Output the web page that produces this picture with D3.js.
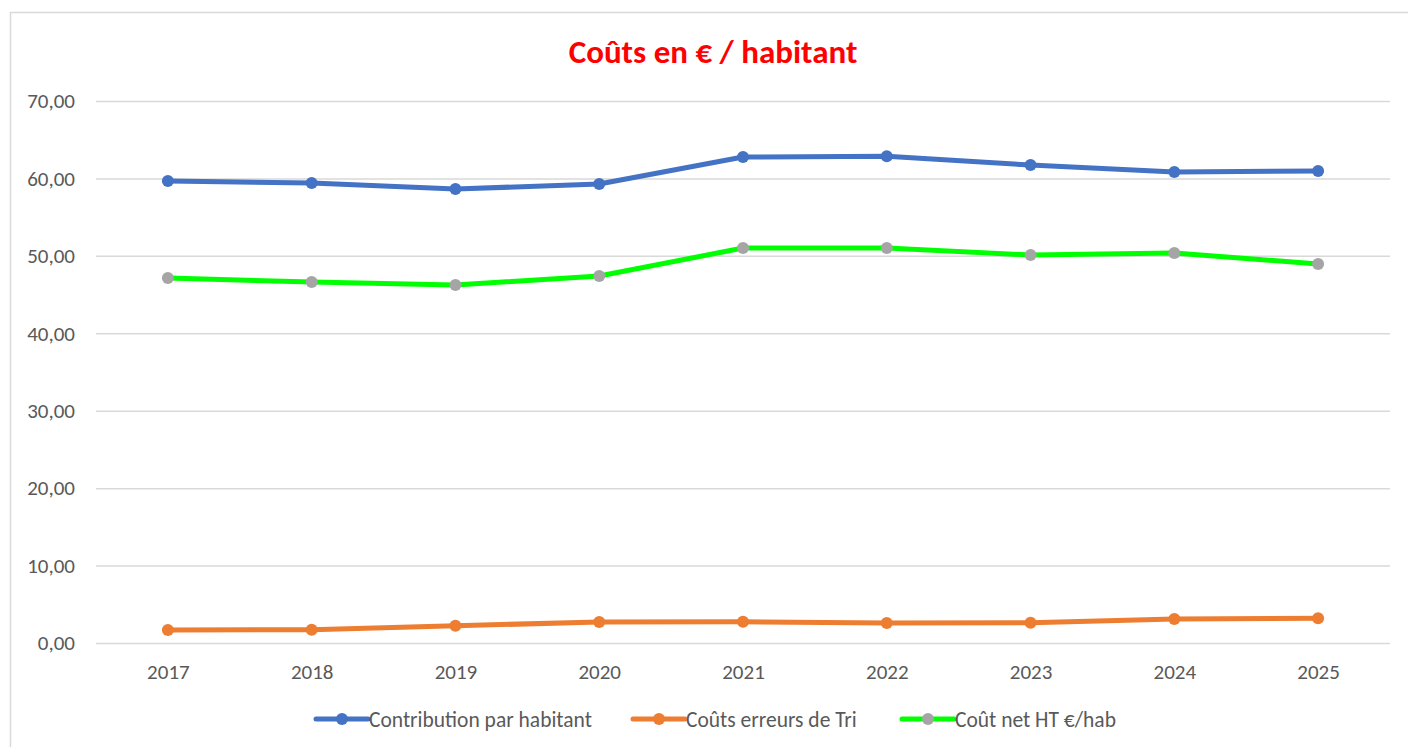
<!DOCTYPE html>
<html>
<head>
<meta charset='utf-8'>
<script src='https://d3js.org/d3.v7.min.js'></script>
<style>
    body { margin: 0; background: #fff; }
    svg text { font-family: Carlito, Lato, 'Open Sans', sans-serif; }
</style>
</head>
<body>
<svg width='1408' height='747'></svg>
<script>

    // data
    var years = ['2017', '2018', '2019', '2020', '2021', '2022', '2023', '2024', '2025'];
    var contribution = [59.67, 59.41, 58.63, 59.28, 62.77, 62.85, 61.73, 60.83, 60.96];
    var erreursTri = [1.68, 1.72, 2.23, 2.71, 2.75, 2.58, 2.62, 3.10, 3.19];
    var coutNet = [47.14, 46.62, 46.24, 47.40, 51.01, 51.01, 50.11, 50.37, 48.95];
    var yTicks = [0, 10, 20, 30, 40, 50, 60, 70];

    var series = [
        { name: 'Contribution par habitant', values: contribution, line: '#4472C4', dot: '#4472C4' },
        { name: 'Coûts erreurs de Tri', values: erreursTri, line: '#ED7D31', dot: '#ED7D31' },
        { name: 'Coût net HT €/hab', values: coutNet, line: '#00FF00', dot: '#A5A5A5' }
    ];

    var svg = d3.select('svg');

    // chart frame (right and bottom edges run off the picture)
    svg.append('rect')
        .attr('x', 10.5).attr('y', 12.5)
        .attr('width', 1500).attr('height', 800)
        .attr('fill', 'none')
        .attr('stroke', '#d9d9d9')
        .attr('stroke-width', 1.5);

    var x = d3.scalePoint()
        .domain(years)
        .range([96, 1390])
        .padding(0.5);

    var y = d3.scaleLinear()
        .domain([0, 70])
        .range([643, 101]);

    // gridlines + y labels
    var yAxis = svg.append('g')
        .attr('transform', 'translate(96,0)')
        .call(d3.axisLeft(y)
            .tickValues(yTicks)
            .tickSize(-1294)
            .tickPadding(21)
            .tickFormat(function (d) { return d3.format('.2f')(d).replace('.', ','); }));
    yAxis.select('.domain').remove();
    yAxis.selectAll('line').attr('stroke', '#d9d9d9').attr('stroke-width', 1.5);
    yAxis.selectAll('text')
        .attr('fill', '#595959')
        .style('font-size', '21px');

    // x labels
    var xAxis = svg.append('g')
        .attr('transform', 'translate(0,643)')
        .call(d3.axisBottom(x).tickSize(0).tickPadding(21));
    xAxis.select('.domain').remove();
    xAxis.selectAll('text')
        .attr('fill', '#595959')
        .style('font-size', '21px');

    // lines and markers
    var line = d3.line()
        .x(function (d, i) { return x(years[i]); })
        .y(function (d) { return y(d); });

    series.forEach(function (s) {
        svg.append('path')
            .datum(s.values)
            .attr('fill', 'none')
            .attr('stroke', s.line)
            .attr('stroke-width', 5)
            .attr('stroke-linejoin', 'round')
            .attr('d', line);

        svg.append('g')
            .selectAll('circle')
            .data(s.values)
            .enter()
            .append('circle')
            .attr('cx', function (d, i) { return x(years[i]); })
            .attr('cy', function (d) { return y(d); })
            .attr('r', 6)
            .attr('fill', s.dot);
    });

    // title
    svg.append('text')
        .attr('x', 713)
        .attr('y', 63)
        .attr('text-anchor', 'middle')
        .attr('fill', '#FF0000')
        .style('font-size', '33px')
        .style('font-weight', 'bold')
        .text('Coûts en € / habitant');

    // legend
    var legendX = [316, 633, 902];
    var legend = svg.append('g')
        .selectAll('g')
        .data(series)
        .enter()
        .append('g')
        .attr('transform', function (d, i) { return 'translate(' + legendX[i] + ',719)'; });

    legend.append('line')
        .attr('x1', 0).attr('x2', 52)
        .attr('stroke', function (d) { return d.line; })
        .attr('stroke-width', 5)
        .attr('stroke-linecap', 'round');

    legend.append('circle')
        .attr('cx', 26)
        .attr('r', 6)
        .attr('fill', function (d) { return d.dot; });

    legend.append('text')
        .attr('x', 53)
        .attr('dy', '0.35em')
        .attr('fill', '#595959')
        .style('font-size', '21.5px')
        .text(function (d) { return d.name; });

</script>
</body>
</html>
